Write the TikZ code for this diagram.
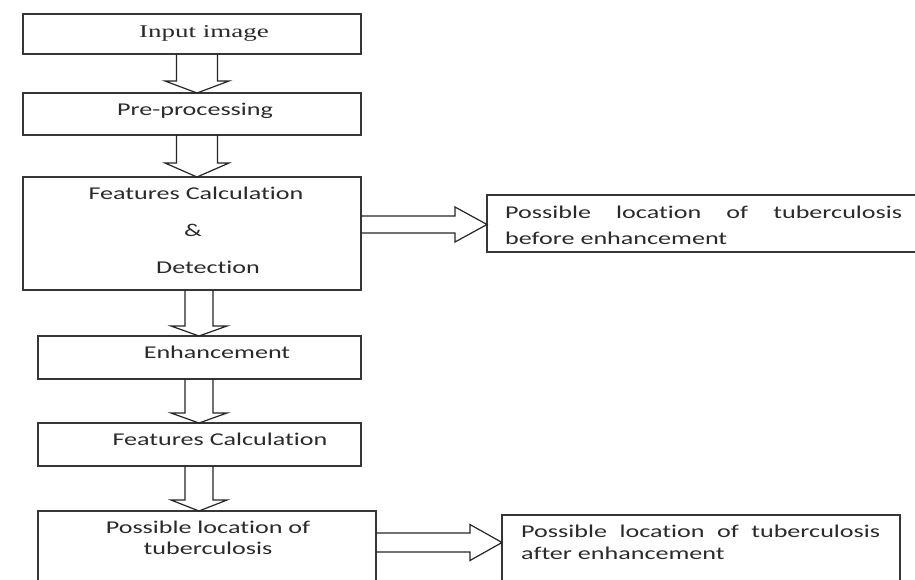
\documentclass[tikz,border=0pt]{standalone}
\usepackage{fontspec}
\newfontfamily\flowsans[FakeStretch=1.45, Ligatures=NoCommon]{Carlito}
\newfontfamily\flowserif[FakeStretch=1.5, Ligatures=NoCommon]{Liberation Serif}
\usetikzlibrary{calc}
\definecolor{ink}{HTML}{2A2A2A}
\definecolor{frame}{HTML}{363636}

\tikzset{
  box/.style={draw=frame, line width=1.6pt, rectangle, anchor=north west,
    inner sep=0pt, outer sep=0pt},
  lbl/.style={anchor=base, inner sep=0pt, text=ink,
    font=\flowsans\fontsize{18}{22}\selectfont},
  arrshaft/.store in=\arrshaft,
  arrhead/.store in=\arrhead,
  arrlen/.store in=\arrlen,
  blockline/.style={draw=black!85, line width=1.2pt},
  % hollow block arrow pointing down, from a start point to a tip point
  downblock/.style={blockline, to path={
    let \p1=(\tikztostart), \p2=(\tikztotarget) in
    (\x1-\arrshaft,\y1) -- (\x1-\arrshaft,\y2+\arrlen) -- (\x1-\arrhead,\y2+\arrlen)
    -- (\x1,\y2) -- (\x1+\arrhead,\y2+\arrlen) -- (\x1+\arrshaft,\y2+\arrlen)
    -- (\x1+\arrshaft,\y1)}},
  % hollow block arrow pointing right
  rightblock/.style={blockline, to path={
    let \p1=(\tikztostart), \p2=(\tikztotarget) in
    (\x1,\y1+\arrshaft) -- (\x2-\arrlen,\y1+\arrshaft) -- (\x2-\arrlen,\y1+\arrhead)
    -- (\x2,\y1) -- (\x2-\arrlen,\y1-\arrhead) -- (\x2-\arrlen,\y1-\arrshaft)
    -- (\x1,\y1-\arrshaft)}},
}

\begin{document}
\begin{tikzpicture}[x=1pt, y=-1pt]
  \fill[white] (0,0) rectangle (915,579);
  \useasboundingbox (0,0) rectangle (915,579);

  % boxes
  \node[box, minimum width=338pt, minimum height=40pt]  (input)  at (23,14)  {};
  \node[box, minimum width=338pt, minimum height=42pt]  (prep)   at (23,93)  {};
  \node[box, minimum width=338pt, minimum height=113pt] (detect) at (23,177) {};
  \node[box, minimum width=453pt, minimum height=57pt]  (before) at (487,195) {};
  \node[box, minimum width=323pt, minimum height=43pt]  (enh)    at (38,336) {};
  \node[box, minimum width=323pt, minimum height=43pt]  (feat)   at (38,423) {};
  \node[box, minimum width=338pt, minimum height=80pt]  (loc)    at (38,511) {};
  \node[box, minimum width=398pt, minimum height=80pt]  (after)  at (502,515) {};

  % texts
  \node[lbl, font=\flowserif\fontsize{18}{22}\selectfont] (tin) at (204,37) {Input image};
  \node[lbl] (tprep) at (195,115) {Pre-processing};
  \node[lbl] (tfeatA) at (196,199) {Features Calculation};
  \node[lbl] (tamp) at (193,236) {\&};
  \node[lbl] (tdet) at (208,273) {Detection};
  \node[lbl, anchor=base west] (tbeforeA) at (505,218)
    {\makebox[397pt][s]{Possible location of tuberculosis}};
  \node[lbl, anchor=base west] (tbeforeB) at (505,244) {before enhancement};
  \node[lbl] (tenh) at (217,358) {Enhancement};
  \node[lbl] (tfeatB) at (220,445) {Features Calculation};
  \node[lbl] (tlocA) at (208,533) {Possible location of};
  \node[lbl] (tlocB) at (208,554) {tuberculosis};
  \node[lbl, anchor=base west] (tafterA) at (521,537)
    {\makebox[359pt][s]{Possible location of tuberculosis}};
  \node[lbl, anchor=base west] (tafterB) at (521,559) {after enhancement};

  % arrow axes
  \coordinate (colA) at (197,0);
  \coordinate (colB) at (199,0);
  \coordinate (rowA) at (0,224.5);
  \coordinate (rowB) at (0,542.5);

  % downward arrows
  \draw[downblock, arrshaft=20.5pt, arrhead=32pt, arrlen=12pt]
    (input.south -| colA) to (prep.north -| colA);
  \draw[downblock, arrshaft=20.5pt, arrhead=32pt, arrlen=14pt]
    (prep.south -| colA) to (detect.north -| colA);
  \draw[downblock, arrshaft=14pt, arrhead=28pt, arrlen=10pt]
    (detect.south -| colB) to (enh.north -| colB);
  \draw[downblock, arrshaft=14pt, arrhead=28pt, arrlen=10pt]
    (enh.south -| colB) to (feat.north -| colB);
  \draw[downblock, arrshaft=14pt, arrhead=28pt, arrlen=11pt]
    (feat.south -| colB) to (loc.north -| colB);

  % rightward arrows
  \draw[rightblock, arrshaft=8.5pt, arrhead=17.5pt, arrlen=32pt]
    (detect.east |- rowA) to (before.west |- rowA);
  \draw[rightblock, arrshaft=9.5pt, arrhead=18pt, arrlen=32pt]
    (loc.east |- rowB) to (after.west |- rowB);
\end{tikzpicture}
\end{document}
